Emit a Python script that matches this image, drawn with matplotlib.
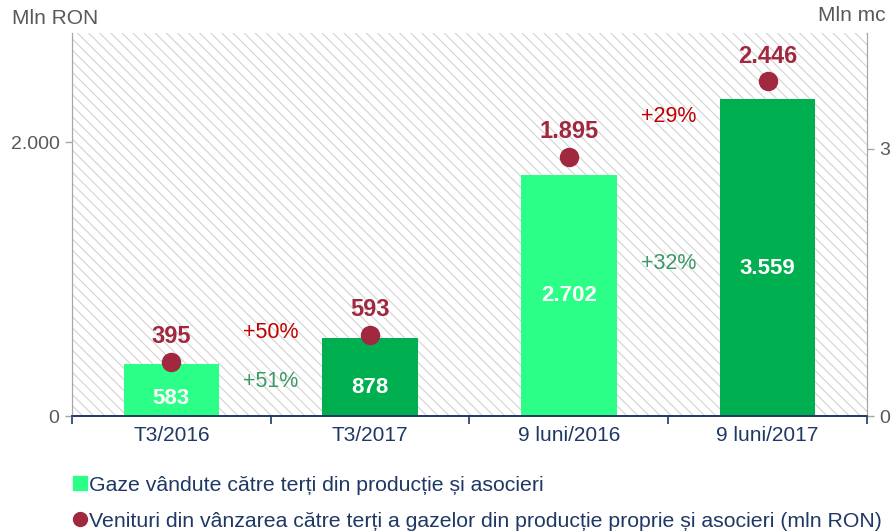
import matplotlib.pyplot as plt
from matplotlib.patches import Rectangle
from matplotlib.lines import Line2D

plt.rcParams['font.family'] = ['Liberation Sans', 'DejaVu Sans']
plt.rcParams['hatch.color'] = '#d2d2d2'
plt.rcParams['hatch.linewidth'] = 0.8

# data
categories = ["T3/2016", "T3/2017", "9 luni/2016", "9 luni/2017"]
gaze_mc = [583, 878, 2702, 3559]          # bars, right axis (mln mc)
venituri_ron = [395, 593, 1895, 2446]     # dots, left axis (mln RON)
gaze_labels = ["583", "878", "2.702", "3.559"]
venit_labels = ["395", "593", "1.895", "2.446"]
gaze_label_y = [200, 315, 1350, 1660]     # where the white labels sit inside the bars
growth_x = [0.5, 2.5]
growth_ron = ["+50%", "+29%"]
growth_ron_y = [610, 2190]
growth_mc = ["+51%", "+32%"]
growth_mc_y = [255, 1115]

bar_colors = ["#2bff88", "#00b050", "#2bff88", "#00b050"]
dot_color = "#a0283f"
navy = "#1f3864"
grey = "#595959"

fig = plt.figure(figsize=(8.91, 5.32), dpi=100)
ax = fig.add_axes([0.0808, 0.218, 0.8922, 0.720])
ax2 = ax.twinx()
ax.set_zorder(2)
ax2.set_zorder(1)
ax.patch.set_visible(False)

# hatched background
ax2.add_patch(Rectangle((0, 0), 1, 1, transform=ax2.transAxes, facecolor="white",
                        edgecolor="#d2d2d2", hatch="\\\\\\", lw=0, zorder=0))

x = list(range(len(categories)))
ax2.bar(x, gaze_mc, width=0.48, color=bar_colors, zorder=2)
for i in x:
    ax2.text(i, gaze_label_y[i], gaze_labels[i], ha="center", va="center",
             color="white", fontsize=16, fontweight="bold")

ax.plot(x, venituri_ron, "o", color=dot_color, ms=13, zorder=3)
for i in x:
    ax.annotate(venit_labels[i], (i, venituri_ron[i]), xytext=(0, 18),
                textcoords="offset points", ha="center", va="center",
                color=dot_color, fontsize=17, fontweight="bold")

for gx, t, y in zip(growth_x, growth_ron, growth_ron_y):
    ax.text(gx, y, t, ha="center", va="center", color="#c00000", fontsize=15.5)
for gx, t, y in zip(growth_x, growth_mc, growth_mc_y):
    ax.text(gx, y, t, ha="center", va="center", color="#3a9a66", fontsize=15.5)

ax.set_xlim(-0.5, 3.5)
ax.set_ylim(0, 2800)
ax2.set_ylim(0, 4300)
ax.set_yticks([0, 2000])
ax.set_yticklabels(["0", "2.000"])
ax2.set_yticks([0, 3000])
ax2.set_yticklabels(["0", "3.000"])
for a in (ax, ax2):
    a.tick_params(axis="y", colors="#a6a6a6", labelcolor=grey, labelsize=14,
                  length=5, width=1, pad=4)
    a.spines["top"].set_visible(False)
    a.spines["left"].set_color("#a6a6a6")
    a.spines["right"].set_color("#a6a6a6")
    a.spines["bottom"].set_color(navy)
    a.spines["bottom"].set_linewidth(1.2)

ax.set_xticks([-0.5, 0.5, 1.5, 2.5, 3.5])
ax.set_xticklabels([])
ax.set_xticks(x, minor=True)
ax.set_xticklabels(categories, minor=True)
ax.tick_params(axis="x", which="major", colors=navy, length=6, width=1.2)
ax.tick_params(axis="x", which="minor", length=0, labelsize=15, labelcolor=navy, pad=7)

fig.text(0.014, 0.966, "Mln RON", color=grey, fontsize=15, va="center")
fig.text(0.918, 0.970, "Mln mc", color=grey, fontsize=15, va="center")

handles = [Line2D([], [], marker="s", ls="", color="#2bff88", ms=10),
           Line2D([], [], marker="o", ls="", color=dot_color, ms=10)]
labels = ["Gaze vândute către terți din producție și asocieri",
          "Venituri din vânzarea către terți a gazelor din producție proprie și asocieri (mln RON)"]
fig.legend(handles, labels, loc="upper left", bbox_to_anchor=(0.083, 0.106),
           frameon=False, handlelength=0.6, handletextpad=0.1, labelspacing=0.8,
           borderaxespad=0, borderpad=0, fontsize=15.3, labelcolor=navy)

fig.savefig("out.png", dpi=100)
